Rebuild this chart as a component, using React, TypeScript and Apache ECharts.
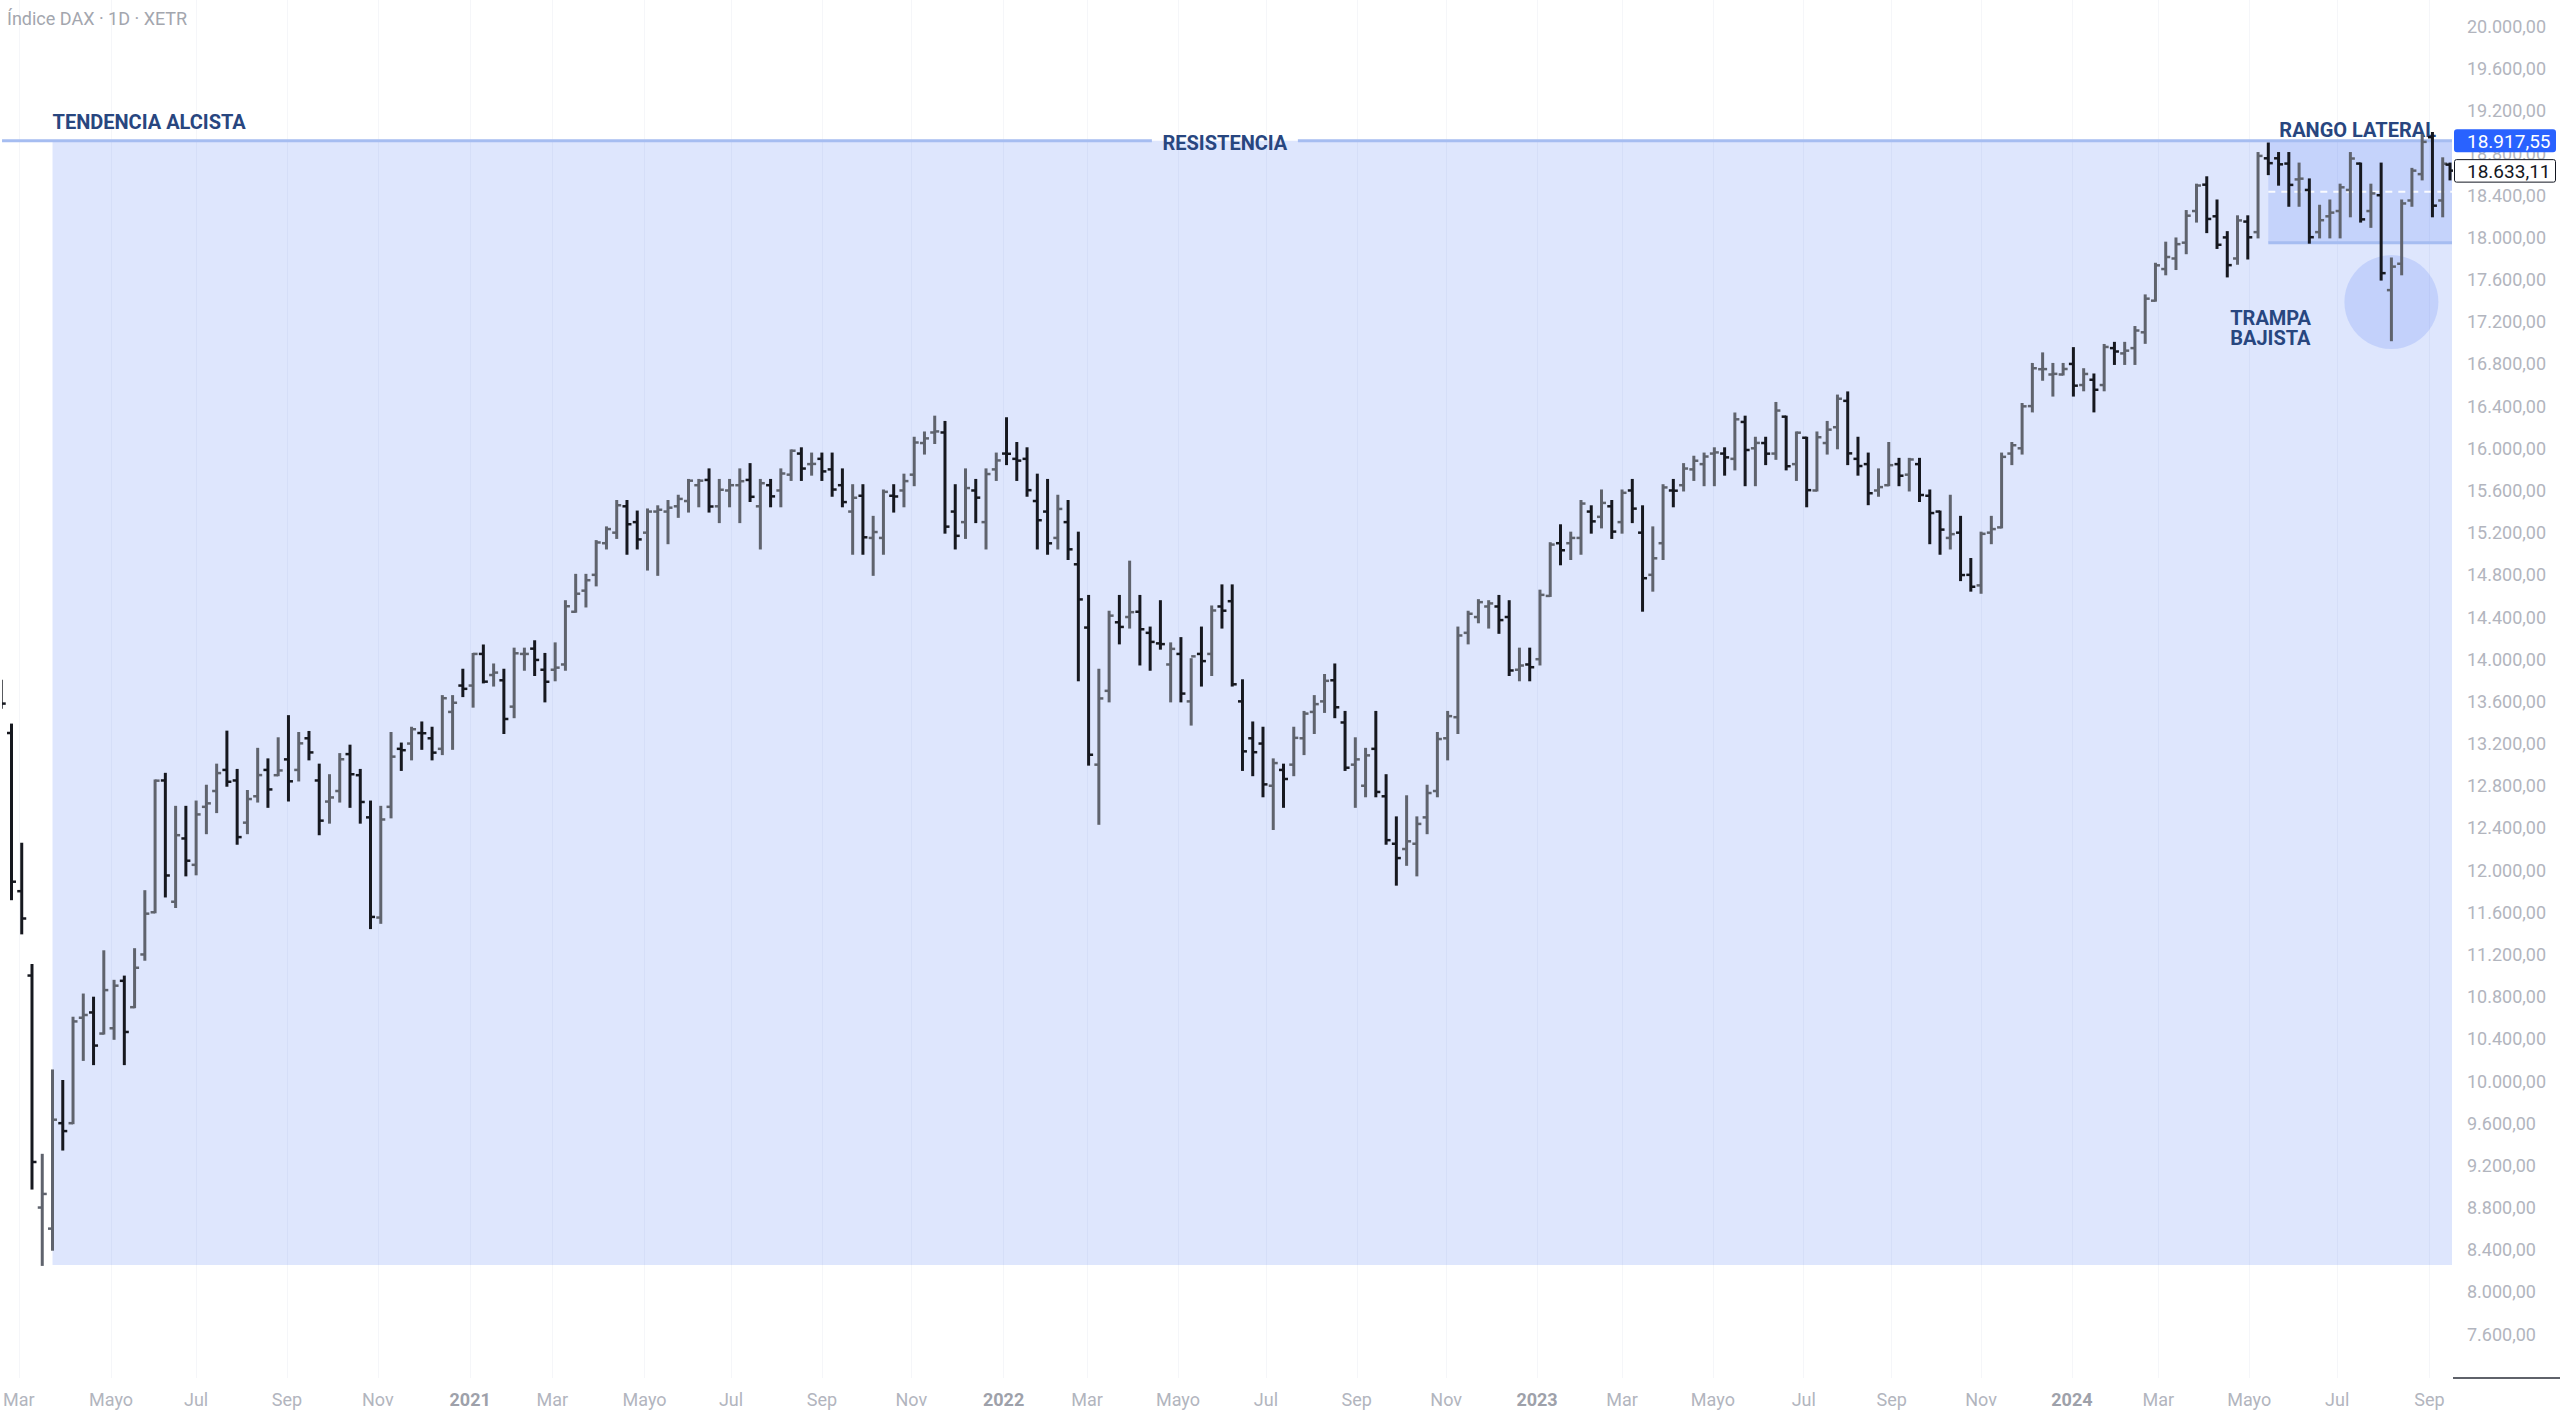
import React, { useEffect, useRef } from 'react';
import * as echarts from 'echarts';

// Weekly OHLC of the DAX index (week starting Monday)
const FIRST_WEEK = '2020-02-17';
const LAST_BAR_DATE = '2024-09-16';

const openVals = [
  // 2020
  13760, 13300, 11800, 11000, 8800, 8600, 9600, 9600, 10600, 10650, 10450, 10500, 10950, 10700, 11200, 11600, 12850, 11700, 12300, 12050, 12600, 12750, 12950, 12850, 12450, 12700, 12950, 12900, 13050, 12950, 13250, 12850, 12650, 12750, 13100, 12900, 12500, 11550, 12600, 13150, 13200, 13300, 13250, 13150, 13500, 13750,
  // 2021
  13750, 14050, 13850, 13800, 13550, 14050, 14100, 13900, 13900, 13950, 14450, 14650, 14800, 15100, 15200, 15450, 15300, 15200, 15400, 15400, 15450, 15500, 15650, 15700, 15450, 15600, 15650, 15700, 15450, 15650, 15600, 15750, 15950, 15850, 15900, 15800, 15650, 15400, 15550, 15150, 15150, 15550, 15600, 15750, 16050, 16150, 16150, 15400, 15300, 15600, 15300, 15800,
  // 2022
  15950, 15900, 15900, 15500, 15400, 15150, 15300, 14900, 14300, 13000, 13700, 14350, 14400, 14450, 14250, 14150, 13950, 14050, 13600, 14050, 14050, 14500, 14550, 13600, 13250, 13200, 12800, 12950, 13000, 13250, 13500, 13600, 13800, 13400, 13000, 12800, 13150, 12700, 12250, 12200, 12250, 12500, 12750, 13250, 13450, 14250, 14400, 14500, 14500, 14400, 13900, 13950,
  // 2023
  14000, 14600, 15100, 15100, 15150, 15400, 15350, 15450, 15300, 15600, 15200, 14800, 15100, 15600, 15650, 15800, 15850, 15950, 15950, 15900, 16250, 16000, 16050, 15950, 16300, 15850, 16100, 15600, 16050, 16200, 16450, 15900, 15850, 15600, 15650, 15850, 15750, 15850, 15550, 15400, 15150, 15200, 14800, 14700, 15200, 15250, 15950, 16000, 16400, 16750, 16700, 16700,
  // 2024
  16800, 16600, 16650, 16600, 16950, 16900, 16950, 17100, 17400, 17700, 17800, 17950, 18250, 18500, 18200, 18000, 17800, 18150, 18050, 18750, 18750, 18700, 18550, 18450, 18050, 18200, 18250, 18450, 18700, 18250, 18400, 17500, 17750, 18350, 18600, 18950, 18350, 18690,
];

const highVals = [
  13795, 13380, 12250, 11100, 9300, 10100, 10000, 10600, 10820, 10790, 11230, 10950, 10990, 11250, 11800, 12850, 12913, 12600, 12600, 12650, 12800, 13000, 13313, 12950, 12750, 13150, 13050, 13250, 13460, 13300, 13310, 13000, 12900, 13100, 13180, 12950, 12650, 12600, 13300, 13200, 13350, 13400, 13350, 13650, 13650, 13900,
  14050, 14130, 13950, 13900, 14100, 14100, 14170, 14050, 14150, 14550, 14800, 14800, 15120, 15250, 15500, 15500, 15400, 15420, 15450, 15500, 15550, 15700, 15700, 15800, 15700, 15700, 15800, 15850, 15700, 15700, 15800, 15980, 16000, 15950, 15950, 15950, 15800, 15650, 15650, 15350, 15600, 15650, 15750, 16100, 16150, 16300, 16250, 15650, 15800, 15700, 15800, 15950,
  16285, 16050, 16000, 15750, 15700, 15550, 15500, 15200, 14600, 13900, 14450, 14600, 14925, 14600, 14300, 14550, 14150, 14200, 14000, 14300, 14500, 14700, 14700, 13800, 13400, 13350, 13050, 13000, 13350, 13500, 13650, 13850, 13950, 13500, 13250, 13150, 13500, 12900, 12500, 12700, 12500, 12800, 13300, 13500, 14300, 14450, 14560, 14550, 14600, 14550, 14100, 14100,
  14650, 15100, 15270, 15200, 15500, 15450, 15600, 15500, 15600, 15700, 15450, 15250, 15650, 15700, 15850, 15920, 15950, 16000, 16000, 16330, 16300, 16100, 16100, 16430, 16300, 16150, 16100, 16150, 16250, 16500, 16530, 16100, 15950, 15800, 16050, 15900, 15900, 15900, 15600, 15400, 15550, 15350, 14950, 15200, 15350, 15950, 16050, 16420, 16800, 16900, 16800, 16800,
  16950, 16750, 16700, 16980, 17000, 17000, 17150, 17450, 17750, 17950, 17990, 18250, 18500, 18570, 18350, 18050, 18200, 18200, 18800, 18890, 18800, 18800, 18700, 18550, 18300, 18350, 18500, 18800, 18700, 18500, 18700, 17800, 18350, 18650, 18970, 18990, 18750, 18700,
];

const lowVals = [
  13540, 11724, 11400, 8980, 8256, 8400, 9350, 9600, 10200, 10160, 10450, 10400, 10160, 10700, 11150, 11600, 11750, 11650, 11950, 11960, 12350, 12550, 12800, 12250, 12350, 12650, 12600, 12900, 12660, 12850, 13050, 12340, 12450, 12650, 12600, 12450, 11450, 11500, 12500, 12950, 13050, 13150, 13050, 13100, 13150, 13650,
  13550, 13780, 13750, 13300, 13450, 13900, 13850, 13600, 13800, 13900, 14450, 14500, 14700, 15050, 15150, 15000, 15050, 14850, 14800, 15100, 15350, 15400, 15450, 15400, 15300, 15450, 15300, 15500, 15050, 15450, 15450, 15700, 15700, 15750, 15700, 15550, 15450, 15000, 15000, 14800, 15000, 15400, 15450, 15650, 15950, 16050, 15200, 15050, 15150, 15300, 15050, 15700,
  15850, 15700, 15550, 15050, 15000, 15050, 14950, 13800, 13000, 12439, 13600, 14150, 14300, 13950, 13900, 14100, 13600, 13600, 13380, 13750, 13850, 14300, 13750, 12950, 12900, 12700, 12390, 12600, 12900, 13100, 13300, 13500, 13450, 12950, 12600, 12700, 12700, 12250, 11862, 12050, 11950, 12350, 12700, 13050, 13300, 14150, 14350, 14300, 14250, 13850, 13800, 13800,
  13950, 14600, 14900, 14950, 15000, 15200, 15250, 15150, 15200, 15300, 14460, 14650, 14950, 15450, 15600, 15700, 15650, 15650, 15750, 15800, 15650, 15650, 15850, 15900, 15800, 15700, 15450, 15600, 15950, 16000, 15850, 15750, 15470, 15550, 15650, 15650, 15600, 15500, 15100, 15000, 15050, 14750, 14650, 14630, 15100, 15250, 15850, 15950, 16350, 16650, 16500, 16700,
  16500, 16550, 16350, 16550, 16800, 16800, 16800, 17000, 17400, 17650, 17700, 17850, 18150, 18050, 17900, 17630, 17750, 17800, 18000, 18600, 18500, 18300, 18300, 17950, 18000, 18000, 18000, 18200, 18150, 18100, 17600, 17025, 17650, 18300, 18550, 18200, 18200, 18550,
];

const closeVals = [
  13579, 11890, 11541, 9232, 8929, 9633, 9525, 10565, 10626, 10336, 10862, 10904, 10465, 11074, 11587, 12848, 11949, 12331, 12089, 12528, 12633, 12920, 12838, 12313, 12674, 12901, 12765, 12945, 12842, 13202, 13116, 12469, 12689, 13051, 12909, 12646, 11556, 12480, 13076, 13137, 13336, 13298, 13114, 13630, 13587, 13719,
  14050, 13787, 13873, 13433, 14056, 14050, 13993, 13786, 13920, 14502, 14621, 14749, 15107, 15234, 15460, 15280, 15136, 15400, 15417, 15437, 15520, 15693, 15693, 15448, 15607, 15650, 15688, 15540, 15669, 15544, 15761, 15977, 15808, 15852, 15781, 15609, 15490, 15531, 15156, 15206, 15587, 15543, 15689, 16055, 16094, 16160, 15257, 15170, 15623, 15532, 15756, 15885,
  15948, 15883, 15603, 15318, 15099, 15425, 15042, 14567, 13094, 13628, 14413, 14306, 14446, 14284, 14164, 14143, 14098, 13674, 14027, 13982, 14462, 14460, 13762, 13126, 13118, 12813, 13015, 12864, 13254, 13484, 13574, 13795, 13544, 12971, 13050, 13088, 12741, 12284, 12114, 12273, 12438, 12731, 13243, 13460, 14225, 14431, 14541, 14529, 14371, 13893, 13940, 13924,
  14610, 15087, 15033, 15150, 15476, 15307, 15482, 15210, 15578, 15428, 14768, 14957, 15629, 15598, 15808, 15882, 15922, 15961, 15914, 16275, 15984, 16051, 15949, 16358, 15830, 16148, 15603, 16105, 16177, 16470, 15952, 15832, 15574, 15632, 15840, 15740, 15894, 15557, 15386, 15229, 15186, 14798, 14687, 15189, 15234, 15919, 16029, 16398, 16759, 16751, 16706, 16752,
  16594, 16705, 16555, 16961, 16918, 16926, 17117, 17419, 17735, 17814, 17936, 18206, 18492, 18175, 17930, 17737, 18161, 18001, 18773, 18704, 18693, 18498, 18557, 18002, 18163, 18235, 18475, 18748, 18171, 18417, 17661, 17723, 18322, 18633, 18906, 18301, 18699, 18633.11,
];

// x axis labels (first trading day of every other month)
const tickDates = [
  '2020-03-02', '2020-05-04', '2020-07-01', '2020-09-01', '2020-11-02',
  '2021-01-04', '2021-03-01', '2021-05-03', '2021-07-01', '2021-09-01', '2021-11-01',
  '2022-01-03', '2022-03-01', '2022-05-02', '2022-07-01', '2022-09-01', '2022-11-01',
  '2023-01-02', '2023-03-01', '2023-05-02', '2023-07-03', '2023-09-01', '2023-11-01',
  '2024-01-02', '2024-03-01', '2024-05-02', '2024-07-01', '2024-09-02',
];
const tickLabels = [
  'Mar', 'Mayo', 'Jul', 'Sep', 'Nov',
  '2021', 'Mar', 'Mayo', 'Jul', 'Sep', 'Nov',
  '2022', 'Mar', 'Mayo', 'Jul', 'Sep', 'Nov',
  '2023', 'Mar', 'Mayo', 'Jul', 'Sep', 'Nov',
  '2024', 'Mar', 'Mayo', 'Jul', 'Sep',
];

const yTicks = [7600, 8000, 8400, 8800, 9200, 9600, 10000, 10400, 10800, 11200, 11600, 12000, 12400, 12800, 13200, 13600, 14000, 14400, 14800, 15200, 15600, 16000, 16400, 16800, 17200, 17600, 18000, 18400, 18800, 19200, 19600, 20000];

// annotation levels / anchors
const RESISTANCE = 18917.55;
const LAST_CLOSE = 18633.11;
const TREND_LOW = 8255.65;
const TREND_START = '2020-03-25';
const TREND_LABEL_LEVEL = 19094;
const RESIST_LABEL_DATE = '2022-06-03';
const RANGE_START = '2024-05-15';
const RANGE_LOW = 17950;
const RANGE_LABEL_DATE = '2024-07-15';
const RANGE_LABEL_LEVEL = 19018;
const TRAP_CENTER_DATE = '2024-08-07';
const TRAP_CENTER_LEVEL = 17387;
const TRAP_LABEL_DATE = '2024-04-19';
const TRAP_LABEL_LEVEL = 17141;

const X_MIN = 49.57;
const X_MAX = 1721.35;
const Y_MIN = 7183.5;
const Y_MAX = 20251.3;

const UP = '#5f636d';
const DOWN = '#16181f';
const NAVY = '#28467f';
const LINE_BLUE = '#a6bdf1';
const FONT = 'Roboto, "Noto Sans", sans-serif';

const dayNum = (s: string) => {
  const [y, m, d] = s.split('-').map(Number);
  return Math.round((Date.UTC(y, m - 1, d) - Date.UTC(2020, 0, 1)) / 86400000);
};

const fmtDE = (v: number) => {
  const [i, dec] = v.toFixed(2).split('.');
  return i.replace(/\B(?=(\d{3})+(?!\d))/g, '.') + ',' + dec;
};

export default function App() {
  const ref = useRef<HTMLDivElement>(null);

  useEffect(() => {
    document.body.style.margin = '0';
    if (!ref.current) return;
    const chart = echarts.init(ref.current, null, { renderer: 'svg' });

    const first = dayNum(FIRST_WEEK);
    const n = closeVals.length;
    const bars = closeVals.map((c, i) => [
      i === n - 1 ? dayNum(LAST_BAR_DATE) : first + 7 * i + 2,
      openVals[i], highVals[i], lowVals[i], c,
    ]);

    const tickDays = tickDates.map(dayNum);
    const labelMap = new Map<number, string>();
    tickDays.forEach((d, i) => labelMap.set(d, tickLabels[i]));

    chart.setOption({
      animation: false,
      backgroundColor: '#ffffff',
      grid: { left: 0, top: 0, width: 2452, height: 1378, containLabel: false },
      xAxis: {
        type: 'value',
        min: X_MIN,
        max: X_MAX,
        axisLine: { show: false },
        axisTick: { show: false, customValues: tickDays },
        splitLine: { show: true, lineStyle: { color: '#f5f6f9', width: 1 } },
        axisLabel: {
          customValues: tickDays,
          margin: 12,
          color: '#b2b5be',
          fontSize: 18,
          fontFamily: FONT,
          formatter: (val: number) => {
            const t = labelMap.get(Math.round(val)) ?? '';
            return /^\d{4}$/.test(t) ? '{yr|' + t + '}' : t;
          },
          rich: { yr: { fontWeight: 'bold', color: '#9ea1aa', fontSize: 18, fontFamily: FONT } },
        },
      },
      yAxis: {
        type: 'value',
        position: 'right',
        min: Y_MIN,
        max: Y_MAX,
        axisLine: { show: false },
        axisTick: { show: false },
        splitLine: { show: false },
        axisLabel: {
          customValues: yTicks,
          align: 'left',
          margin: 15,
          color: '#b2b5be',
          fontSize: 18,
          fontFamily: FONT,
          formatter: (v: number) => fmtDE(v),
        },
      },
      series: [
        {
          type: 'custom',
          z: 10,
          clip: true,
          data: bars,
          encode: { x: 0, y: [1, 2, 3, 4] },
          renderItem: (params: any, api: any) => {
            const x = api.value(0);
            const o = api.value(1), h = api.value(2), l = api.value(3), c = api.value(4);
            const pH = api.coord([x, h]);
            const pL = api.coord([x, l]);
            const pO = api.coord([x, o]);
            const pC = api.coord([x, c]);
            const color = c >= o ? UP : DOWN;
            const stem = { stroke: color, lineWidth: 3 };
            const tick = { stroke: color, lineWidth: 2.5 };
            return {
              type: 'group',
              children: [
                { type: 'line', shape: { x1: pH[0], y1: pH[1] - 1, x2: pL[0], y2: pL[1] + 1 }, style: stem },
                { type: 'line', shape: { x1: pO[0] - 4.5, y1: pO[1], x2: pO[0], y2: pO[1] }, style: tick },
                { type: 'line', shape: { x1: pC[0], y1: pC[1], x2: pC[0] + 4.5, y2: pC[1] }, style: tick },
              ],
            };
          },
        },
      ],
    });

    const px = (d: number, v: number) => chart.convertToPixel({ gridIndex: 0 }, [d, v]) as number[];
    const xL = px(X_MIN, RESISTANCE)[0];
    const xR = px(X_MAX, RESISTANCE)[0];
    const yRes = px(X_MIN, RESISTANCE)[1];
    const yLow = px(X_MIN, TREND_LOW)[1];
    const xTrend = px(dayNum(TREND_START), 0)[0];
    const xRange = px(dayNum(RANGE_START), 0)[0];
    const yRangeLow = px(X_MIN, RANGE_LOW)[1];
    const yMid = px(X_MIN, (RESISTANCE + RANGE_LOW) / 2)[1];
    const trap = px(dayNum(TRAP_CENTER_DATE), TRAP_CENTER_LEVEL);
    const resLbl = px(dayNum(RESIST_LABEL_DATE), RESISTANCE);
    const trendLbl = px(dayNum(TREND_START), TREND_LABEL_LEVEL);
    const rangeLbl = px(dayNum(RANGE_LABEL_DATE), RANGE_LABEL_LEVEL);
    const trapLbl = px(dayNum(TRAP_LABEL_DATE), TRAP_LABEL_LEVEL);
    const yLast = px(X_MIN, LAST_CLOSE)[1];
    const gapHalf = 73;

    const boldText = (text: string, x: number, y: number, align: string) => ({
      type: 'text',
      z: 3,
      silent: true,
      style: {
        text, x, y,
        fill: NAVY,
        fontSize: 20,
        fontWeight: 'bold',
        fontFamily: FONT,
        lineHeight: 20,
        align, verticalAlign: 'middle',
        textAlign: align, textVerticalAlign: 'middle',
      },
    });

    chart.setOption({
      graphic: [
        { type: 'rect', z: 1, silent: true, shape: { x: xTrend, y: yRes, width: xR - xTrend, height: yLow - yRes }, style: { fill: 'rgba(33,86,243,0.15)' } },
        { type: 'rect', z: 2, silent: true, shape: { x: xRange, y: yRes, width: xR - xRange, height: yRangeLow - yRes }, style: { fill: 'rgba(33,86,243,0.13)' } },
        { type: 'circle', z: 2, silent: true, shape: { cx: trap[0], cy: trap[1], r: 47 }, style: { fill: 'rgba(33,86,243,0.14)' } },
        { type: 'line', z: 3, silent: true, shape: { x1: xL, y1: yRes, x2: resLbl[0] - gapHalf, y2: yRes }, style: { stroke: LINE_BLUE, lineWidth: 3 } },
        { type: 'line', z: 3, silent: true, shape: { x1: resLbl[0] + gapHalf, y1: yRes, x2: xR, y2: yRes }, style: { stroke: LINE_BLUE, lineWidth: 3 } },
        { type: 'line', z: 3, silent: true, shape: { x1: xRange, y1: yRangeLow, x2: xR, y2: yRangeLow }, style: { stroke: LINE_BLUE, lineWidth: 3 } },
        { type: 'line', z: 3, silent: true, shape: { x1: xRange, y1: yMid, x2: xR, y2: yMid }, style: { stroke: 'rgba(255,255,255,0.9)', lineWidth: 2, lineDash: [7, 6] } },
        boldText('TENDENCIA ALCISTA', trendLbl[0], trendLbl[1], 'left'),
        boldText('RESISTENCIA', resLbl[0], resLbl[1] + 2, 'center'),
        boldText('RANGO LATERAL', rangeLbl[0], rangeLbl[1], 'center'),
        boldText('TRAMPA\nBAJISTA', trapLbl[0], trapLbl[1], 'left'),
        // price scale tags
        { type: 'rect', z: 20, silent: true, shape: { x: xR + 2, y: yRes - 11.5, width: 102, height: 23, r: 3 }, style: { fill: '#2962ff' } },
        { type: 'text', z: 21, silent: true, style: { text: fmtDE(RESISTANCE), x: xR + 15, y: yRes + 0.5, fill: '#ffffff', fontSize: 19, fontFamily: FONT, align: 'left', verticalAlign: 'middle', textAlign: 'left', textVerticalAlign: 'middle' } },
        { type: 'rect', z: 20, silent: true, shape: { x: xR + 2.5, y: yLast - 11, width: 101, height: 22.5, r: 2 }, style: { fill: '#ffffff', stroke: '#131722', lineWidth: 1 } },
        { type: 'text', z: 21, silent: true, style: { text: fmtDE(LAST_CLOSE), x: xR + 15, y: yLast + 0.5, fill: '#131722', fontSize: 19, fontFamily: FONT, align: 'left', verticalAlign: 'middle', textAlign: 'left', textVerticalAlign: 'middle' } },
        { type: 'line', z: 20, silent: true, shape: { x1: xR + 1, y1: 1378, x2: 2560, y2: 1378 }, style: { stroke: '#2a2e39', lineWidth: 1.5 } },
        { type: 'text', z: 20, silent: true, style: { text: 'Índice DAX · 1D · XETR', x: 7, y: 18, fill: '#a3a6ae', fontSize: 18, fontFamily: FONT, align: 'left', verticalAlign: 'middle', textAlign: 'left', textVerticalAlign: 'middle' } },
      ],
    });

    return () => chart.dispose();
  }, []);

  return <div ref={ref} style={{ width: 2560, height: 1414 }} />;
}
